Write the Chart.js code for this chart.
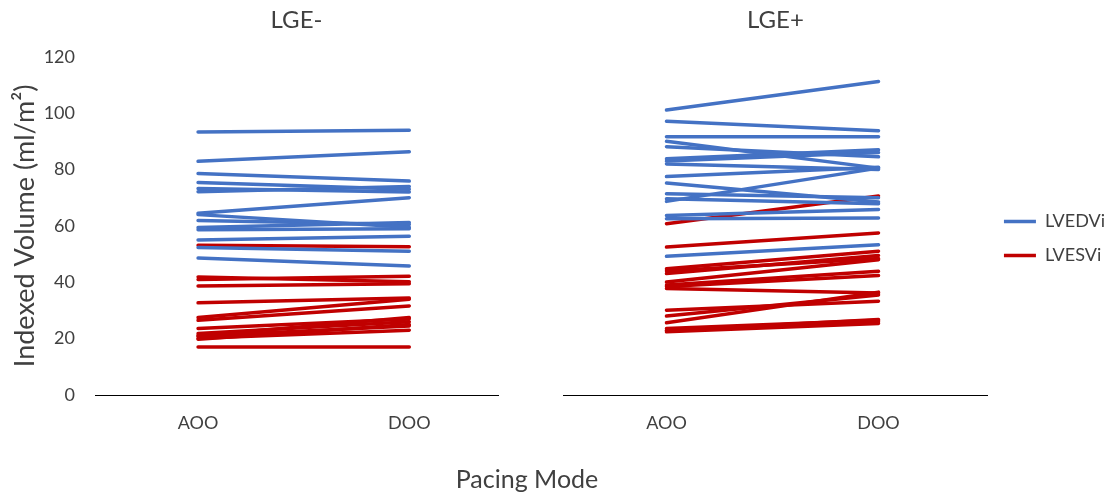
<!DOCTYPE html>
<html>
<head>
<meta charset="utf-8">
<script src="https://cdn.jsdelivr.net/npm/chart.js@4.4.0/dist/chart.umd.min.js"></script>
<style>
  html, body { margin: 0; padding: 0; background: #fff; }
  #wrap { position: relative; width: 1115px; height: 495px; overflow: hidden; font-family: Lato, "Open Sans", sans-serif; }
  .panel { position: absolute; top: 0; height: 495px; }
  #xTitle { position: absolute; left: 0; width: 1054px; top: 463px; text-align: center; font-size: 25px; color: #404040; }
</style>
</head>
<body>
<div id="wrap">
  <div class="panel" style="left:0;width:510px;"><canvas id="leftChart"></canvas></div>
  <div class="panel" style="left:510px;width:605px;"><canvas id="rightChart"></canvas></div>
  <div id="xTitle">Pacing Mode</div>
</div>
<script>
const modes = ["AOO", "DOO"];
const panelTitles = ["LGE-", "LGE+"];
const yTicks = [0, 20, 40, 60, 80, 100, 120];

// LGE- group
const negEdvAoo = [93.3, 82.9, 78.6, 75.4, 73.3, 72.1, 64.5, 64.0, 61.9, 59.4, 58.6, 55.0, 52.3, 48.6];
const negEdvDoo = [93.9, 86.3, 75.9, 73.0, 72.0, 74.0, 70.0, 59.5, 60.5, 61.2, 59.0, 56.3, 51.0, 45.8];
const negEsvAoo = [53.1, 41.9, 41.0, 38.7, 32.7, 27.5, 26.5, 23.6, 21.8, 21.0, 20.9, 20.1, 19.8, 17.0];
const negEsvDoo = [52.6, 40.2, 42.1, 39.5, 34.4, 34.0, 31.6, 27.0, 26.0, 27.5, 24.5, 23.0, 25.0, 17.0];

// LGE+ group
const posEdvAoo = [101.1, 97.1, 91.6, 90.0, 88.1, 83.8, 83.0, 82.0, 77.5, 75.2, 71.4, 69.6, 68.7, 63.7, 62.5, 49.2];
const posEdvDoo = [111.2, 93.8, 91.6, 80.5, 84.5, 87.0, 86.0, 80.0, 80.8, 68.5, 70.0, 67.9, 80.5, 65.8, 62.8, 53.3];
const posEsvAoo = [60.8, 52.5, 44.8, 44.0, 43.1, 40.1, 39.0, 38.5, 37.8, 30.1, 28.0, 25.6, 23.6, 23.0, 22.4, 22.8];
const posEsvDoo = [70.6, 57.5, 51.0, 48.4, 49.5, 48.0, 43.9, 42.4, 36.2, 33.3, 35.5, 36.5, 26.5, 26.0, 25.4, 26.8];

const BLUE = "#4472C4";
const RED = "#C00000";
const FONT = "Lato, 'Open Sans', sans-serif";
const TEXT = "#404040";

function pairSets(aoo, doo, label, color) {
  return aoo.map((v, i) => ({
    label: label,
    data: [{ x: 0, y: v }, { x: 1, y: doo[i] }],
    borderColor: color,
    backgroundColor: color,
    borderWidth: 3.5,
    borderCapStyle: "round",
    pointRadius: 0,
    fill: false
  }));
}

function buildChart(id, title, edvA, edvD, esvA, esvD, opts) {
  const ctx = document.getElementById(id).getContext("2d");
  const datasets = pairSets(edvA, edvD, "LVEDVi", BLUE).concat(pairSets(esvA, esvD, "LVESVi", RED));
  return new Chart(ctx, {
    type: "line",
    data: { datasets: datasets },
    options: {
      responsive: true,
      maintainAspectRatio: false,
      animation: false,
      layout: { padding: opts.padding },
      plugins: {
        title: {
          display: true,
          text: title,
          fullSize: false,
          color: TEXT,
          font: { family: FONT, size: 24, weight: "normal" },
          padding: { top: 6, bottom: 22 }
        },
        legend: opts.legend,
        tooltip: { enabled: false }
      },
      scales: {
        x: {
          type: "linear",
          min: opts.xMin,
          max: opts.xMax,
          grid: { display: false, drawTicks: false },
          border: { display: true, color: "#000", width: 1 },
          afterBuildTicks: (s) => { s.ticks = [{ value: 0 }, { value: 1 }]; },
          afterFit: (s) => { s.height = 100; },
          ticks: {
            color: TEXT,
            padding: 17,
            maxRotation: 0,
            font: { family: FONT, size: 18 },
            callback: (v) => modes[v]
          }
        },
        y: {
          display: opts.showY,
          min: 0,
          max: 120,
          grid: { display: false, drawTicks: false },
          border: { display: false },
          afterBuildTicks: (s) => { s.ticks = yTicks.map((v) => ({ value: v })); },
          afterFit: (s) => { s.width = opts.showY ? 95 : 0; },
          ticks: {
            color: TEXT,
            padding: 20,
            font: { family: FONT, size: 18 }
          },
          title: {
            display: true,
            text: "Indexed Volume (ml/m\u00B2)",
            color: TEXT,
            font: { family: FONT, size: 27 },
            padding: { top: 9, bottom: 0 }
          }
        }
      }
    }
  });
}

buildChart("leftChart", panelTitles[0], negEdvAoo, negEdvDoo, negEsvAoo, negEsvDoo, {
  padding: { left: 0, right: 12, top: 0, bottom: 0 },
  xMin: -0.488, xMax: 1.42,
  showY: true,
  legend: { display: false }
});

buildChart("rightChart", panelTitles[1], posEdvAoo, posEdvDoo, posEsvAoo, posEsvDoo, {
  padding: { left: 53, right: 0, top: 0, bottom: 0 },
  xMin: -0.488, xMax: 1.516,
  showY: false,
  legend: {
    display: true,
    position: "right",
    align: "start",
    // empty title only used as a spacer to push the entries down
    title: { display: true, text: "", font: { size: 12 }, padding: { top: 182, bottom: 0 } },
    labels: {
      color: TEXT,
      font: { family: FONT, size: 18 },
      usePointStyle: true,
      pointStyle: "line",
      pointStyleWidth: 32,
      padding: 16,
      filter: (item, data) => data.datasets.findIndex((d) => d.label === item.text) === item.datasetIndex
    }
  }
});
</script>
</body>
</html>
